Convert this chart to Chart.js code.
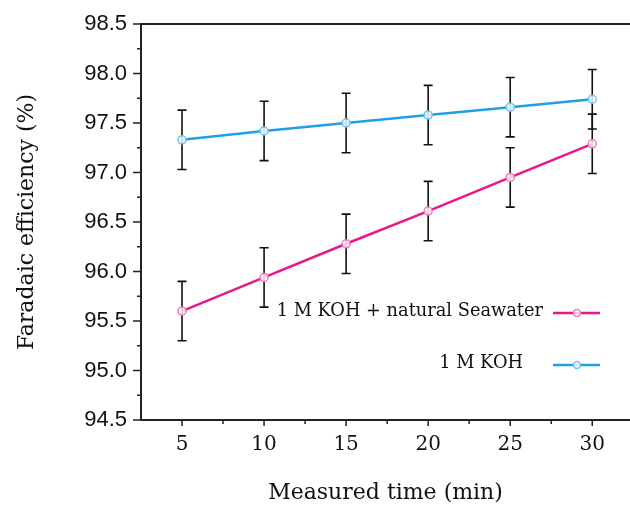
<!DOCTYPE html>
<html lang="en">
<head>
<meta charset="UTF-8">
<script src="https://cdn.jsdelivr.net/npm/chart.js@4.4.1/dist/chart.umd.min.js"></script>
<title>Faradaic efficiency</title>
<style>
    html, body { margin: 0; padding: 0; background: #fff; overflow: hidden; }
    #wrap { width: 630px; height: 506px; }
</style>
</head>
<body>
<div id="wrap"><canvas id="chart" width="630" height="506"></canvas></div>
<script>
// data
const times = [5, 10, 15, 20, 25, 30]
const kohValues = [97.33, 97.42, 97.50, 97.58, 97.66, 97.74]
const kohErrors = [0.30, 0.30, 0.30, 0.30, 0.30, 0.30]
const seaValues = [95.60, 95.94, 96.28, 96.61, 96.95, 97.29]
const seaErrors = [0.30, 0.30, 0.30, 0.30, 0.30, 0.30]

const xTicks = [5, 10, 15, 20, 25, 30]
const xMinor = [7.5, 12.5, 17.5, 22.5, 27.5]
const yTicks = [94.5, 95.0, 95.5, 96.0, 96.5, 97.0, 97.5, 98.0, 98.5]
const yMinor = [94.75, 95.25, 95.75, 96.25, 96.75, 97.25, 97.75, 98.25]

const seaLabel = '1 M KOH + natural Seawater'
const kohLabel = '1 M KOH'

const pink = '#e8188a'
const pinkLight = '#f27ab8'
const blue = '#1f9fe6'
const blueLight = '#6cc3f2'
const axisColor = '#222'
const serif = '"DejaVu Serif", serif'

const toPts = (vals) => vals.map((v, i) => ({ x: times[i], y: v }))

// error bars, drawn under the lines so the markers sit on top
const errorBars = {
    id: 'errorBars',
    beforeDatasetsDraw(chart) {
        const { ctx, scales: { x, y } } = chart
        const errs = [kohErrors, seaErrors]
        ctx.save()
        ctx.strokeStyle = '#111'
        ctx.lineWidth = 1.6
        chart.data.datasets.forEach((ds, di) => {
            ds.data.forEach((p, i) => {
                const px = x.getPixelForValue(p.x)
                const top = y.getPixelForValue(p.y + errs[di][i])
                const bot = y.getPixelForValue(p.y - errs[di][i])
                ctx.beginPath()
                ctx.moveTo(px, top); ctx.lineTo(px, bot)
                ctx.moveTo(px - 4.5, top); ctx.lineTo(px + 4.5, top)
                ctx.moveTo(px - 4.5, bot); ctx.lineTo(px + 4.5, bot)
                ctx.stroke()
            })
        })
        ctx.restore()
    }
}

// outward tick marks, top frame line, and the legend inside the plot
const frame = {
    id: 'frame',
    afterDraw(chart) {
        const { ctx, chartArea: a, scales: { x, y } } = chart
        ctx.save()
        ctx.strokeStyle = axisColor
        ctx.lineWidth = 2
        ctx.beginPath()
        ctx.moveTo(a.left, a.top); ctx.lineTo(a.right, a.top)
        ctx.stroke()

        ctx.lineWidth = 1.5
        ctx.beginPath()
        xTicks.forEach(v => { const px = x.getPixelForValue(v); ctx.moveTo(px, a.bottom); ctx.lineTo(px, a.bottom + 6) })
        xMinor.forEach(v => { const px = x.getPixelForValue(v); ctx.moveTo(px, a.bottom); ctx.lineTo(px, a.bottom + 4) })
        yTicks.forEach(v => { const py = y.getPixelForValue(v); ctx.moveTo(a.left, py); ctx.lineTo(a.left - 8, py) })
        yMinor.forEach(v => { const py = y.getPixelForValue(v); ctx.moveTo(a.left, py); ctx.lineTo(a.left - 4, py) })
        ctx.stroke()

        // legend
        const items = [
            { text: seaLabel, color: pink, marker: pinkLight, tx: 543, ly: 313 },
            { text: kohLabel, color: blue, marker: blueLight, tx: 523, ly: 365 }
        ]
        ctx.font = '17.8px ' + serif
        ctx.textAlign = 'right'
        ctx.textBaseline = 'middle'
        items.forEach(it => {
            ctx.fillStyle = '#111'
            ctx.fillText(it.text, it.tx, it.ly - 2)
            ctx.strokeStyle = it.color
            ctx.lineWidth = 2.5
            ctx.beginPath(); ctx.moveTo(553, it.ly); ctx.lineTo(600, it.ly); ctx.stroke()
            ctx.fillStyle = 'rgba(255,255,255,0.8)'
            ctx.strokeStyle = it.marker
            ctx.lineWidth = 1.5
            ctx.beginPath(); ctx.arc(577, it.ly, 3.5, 0, Math.PI * 2); ctx.fill(); ctx.stroke()
        })
        ctx.restore()
    }
}

const ctx = document.getElementById('chart').getContext('2d')
const myChart = new Chart(ctx, {
    type: 'line',
    data: {
        datasets: [{
            label: kohLabel,
            data: toPts(kohValues),
            borderColor: blue,
            borderWidth: 2.5,
            pointRadius: 4,
            pointBorderWidth: 1.5,
            pointBorderColor: blueLight,
            pointBackgroundColor: 'rgba(255,255,255,0.8)',
            tension: 0
        }, {
            label: seaLabel,
            data: toPts(seaValues),
            borderColor: pink,
            borderWidth: 2.5,
            pointRadius: 4,
            pointBorderWidth: 1.5,
            pointBorderColor: pinkLight,
            pointBackgroundColor: 'rgba(255,255,255,0.8)',
            tension: 0
        }]
    },
    options: {
        responsive: false,
        animation: false,
        layout: { autoPadding: false, padding: { top: 24, right: 0, left: 0, bottom: 0 } },
        plugins: { legend: { display: false }, tooltip: { enabled: false } },
        scales: {
            x: {
                type: 'linear',
                min: 2.5,
                max: 32.3,
                afterBuildTicks: s => { s.ticks = xTicks.map(v => ({ value: v })) },
                afterFit: s => { s.height = 86; s.paddingLeft = 0; s.paddingRight = 0 },
                grid: { display: false, drawTicks: false },
                border: { display: true, color: axisColor, width: 2 },
                ticks: { color: '#111', padding: 13, maxRotation: 0, font: { family: serif, size: 20 } },
                title: { display: true, text: 'Measured time (min)', color: '#111', padding: { top: 0, bottom: 0 }, font: { family: serif, size: 22 } }
            },
            y: {
                min: 94.5,
                max: 98.5,
                afterBuildTicks: s => { s.ticks = yTicks.map(v => ({ value: v })) },
                afterFit: s => { s.width = 141; s.paddingTop = 0; s.paddingBottom = 0 },
                grid: { display: false, drawTicks: false },
                border: { display: true, color: axisColor, width: 2 },
                ticks: {
                    color: '#111', padding: 14,
                    font: { family: '"Liberation Sans", Arial, sans-serif', size: 22 },
                    callback: v => v.toFixed(1)
                },
                title: { display: true, text: 'Faradaic efficiency (%)', color: '#111', padding: { top: 14, bottom: 0 }, font: { family: serif, size: 22 } }
            }
        }
    },
    plugins: [errorBars, frame]
})
</script>
</body>
</html>
